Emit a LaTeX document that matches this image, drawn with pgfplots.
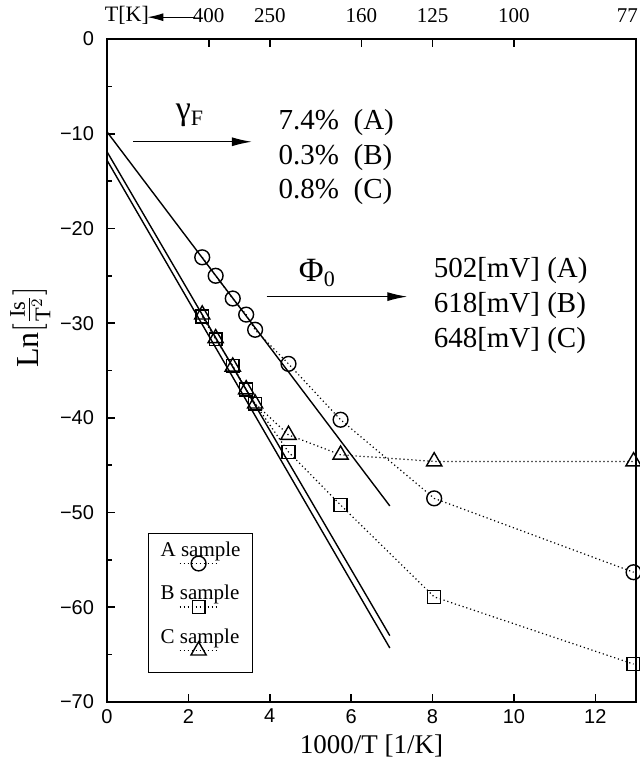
\documentclass[border=0pt]{standalone}
\usepackage{pgfplots}
\pgfplotsset{compat=1.18}
\usepackage{amsmath}
\usepackage{fontspec}
\setmainfont{Liberation Serif}
\newfontfamily\sansf{Liberation Sans}
\usetikzlibrary{arrows.meta}
\begin{document}
\begin{tikzpicture}
\pgfplotsset{
  dotstyle/.style={black, line width=0.6pt, dash pattern=on 0.6pt off 1.4pt,
    mark options={solid, line width=0.7pt}},
}
\begin{axis}[name=ax, scale only axis, width=264.5pt, height=331.5pt,
  xmin=0, xmax=13, ymin=-70, ymax=0, clip=false,
  axis line style={line width=1pt},
  xtick={0,2,...,12}, xticklabels={0,2,4,6,8,10,12},
  ytick={-70,-60,...,0}, minor ytick={-65,-55,...,-5},
  yticklabels={−70,−60,−50,−40,−30,−20,−10,0},
  tick label style={font=\sansf\fontsize{10}{12}\selectfont},
  yticklabel style={xshift=-3pt},
  xtick pos=bottom, ytick pos=left, tick align=inside,
  major tick length=4pt, minor tick length=2.5pt,
  every tick/.style={line width=0.8pt, black},
  xlabel={1000/T [1/K]},
  xlabel style={font=\fontsize{13.5}{15}\selectfont, yshift=1pt},
  ylabel={Ln$[\frac{\text{Is}}{\text{T}^{2}}]$},
  ylabel style={at={(axis description cs:-0.145,0.565)}, anchor=center, font=\fontsize{16}{18}\selectfont},
  legend style={at={(axis description cs:0.0775,0.0437)}, anchor=south west,
    draw=black, line width=0.6pt, inner xsep=4pt, inner ysep=2pt, row sep=0pt,
    font=\fontsize{10.5}{12}\selectfont, nodes={text depth=10.5pt}},
  legend cell align=left,
  legend image code/.code={%
    \draw[overlay, mark repeat=2, mark phase=2] plot coordinates {(11.5pt,-2pt) (21pt,-2pt) (30.5pt,-2pt)};},
]
% fitted lines
\addplot[black, line width=0.7pt, forget plot] coordinates {(0,-9.8) (6.95,-49.3)};
\addplot[black, line width=0.7pt, forget plot] coordinates {(0,-11.9) (6.95,-63.0)};
\addplot[black, line width=0.7pt, forget plot] coordinates {(0,-12.8) (6.95,-64.3)};
% samples
\addplot[dotstyle, mark=o, mark size=3.7pt] coordinates {
 (2.34,-23.05) (2.67,-25.0) (3.09,-27.4) (3.42,-29.1) (3.64,-30.7)
 (4.46,-34.3) (5.74,-40.2) (8.04,-48.5) (12.94,-56.3)};
\addlegendentry{A sample}
\addplot[dotstyle, mark=square, mark size=3.2pt] coordinates {
 (2.34,-29.3) (2.67,-31.7) (3.09,-34.5) (3.42,-37.0) (3.64,-38.5)
 (4.46,-43.6) (5.74,-49.2) (8.04,-58.9) (12.94,-66.0)};
\addlegendentry{B sample}
\addplot[dotstyle, mark=triangle, mark size=4.4pt] coordinates {
 (2.34,-29.1) (2.67,-31.6) (3.09,-34.6) (3.42,-37.0) (3.64,-38.5)
 (4.46,-41.8) (5.74,-43.9) (8.04,-44.6) (12.94,-44.6)};
\addlegendentry{C sample}
% annotations
\node[font=\fontsize{17}{19}\selectfont] at (axis cs:2.04,-8.1) {γ\textsubscript{\fontsize{11}{12}\selectfont F}};
\draw[line width=0.6pt, -{Latex[length=10pt,width=4.5pt]}] (axis cs:0.64,-10.85) -- (axis cs:3.56,-10.85);
\node[anchor=west, align=left, font=\fontsize{14.5}{17.25}\selectfont, inner sep=0pt] at (axis cs:4.21,-12.5)
  {7.4\%~ (A)\\0.3\%~ (B)\\0.8\%~ (C)};
\node[font=\fontsize{17}{19}\selectfont] at (axis cs:5.17,-24.7) {Φ\textsubscript{\fontsize{11}{12}\selectfont 0}};
\draw[line width=0.6pt, -{Latex[length=10pt,width=4.5pt]}] (axis cs:3.92,-27.2) -- (axis cs:7.38,-27.2);
\node[anchor=west, align=left, font=\fontsize{14.5}{17.5}\selectfont, inner sep=0pt] at (axis cs:8.02,-28.1)
  {502[mV] (A)\\618[mV] (B)\\648[mV] (C)};
\node[font=\fontsize{11}{13}\selectfont] at (axis cs:0.49,2.45) {T[K]};
\draw[line width=0.6pt, -{Latex[length=8pt,width=4pt]}] (axis cs:2.17,2.3) -- (axis cs:0.99,2.3);
\end{axis}
\begin{axis}[scale only axis, width=264.5pt, height=331.5pt,
  xmin=0, xmax=13, ymin=-70, ymax=0,
  axis x line*=top, axis y line=none,
  axis line style={line width=1pt},
  xtick={2.5,4,6.25,8,10,12.987}, xticklabels={400,250,160,125,100,77\hspace*{8pt}},
  tick align=inside, major tick length=4pt,
  every tick/.style={line width=0.8pt, black},
  xticklabel style={font=\fontsize{10.5}{12}\selectfont, yshift=4.5pt},
]
\end{axis}
\pgfresetboundingbox
\path ([shift={(-53.5pt,-34pt)}]ax.south west) rectangle ([shift={(1.5pt,19.5pt)}]ax.north east);
\end{tikzpicture}
\end{document}
